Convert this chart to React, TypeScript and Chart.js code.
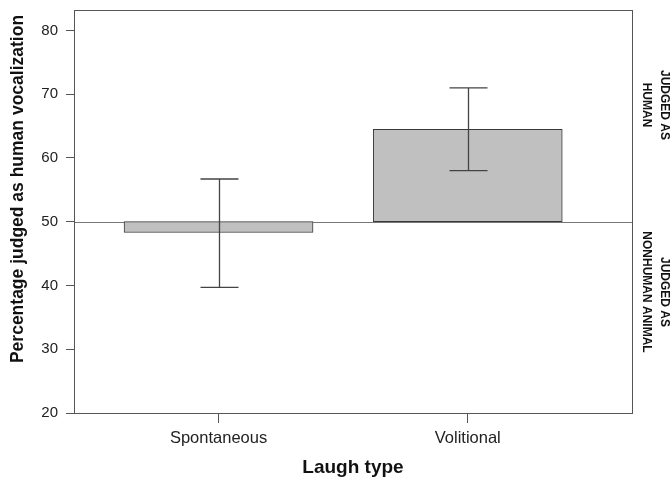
import React, { useEffect, useRef } from "react";
import { Chart, registerables } from "chart.js";

Chart.register(...registerables);

const categories = ["Spontaneous", "Volitional"];
const barBase = [50, 50];
const barMean = [48.3, 64.5];
const errLow = [39.7, 58.0];
const errHigh = [56.7, 71.0];
const yTicks = [20, 30, 40, 50, 60, 70, 80];
const sideLabelsTop = ["JUDGED AS", "HUMAN"];
const sideLabelsBottom = ["JUDGED AS", "NONHUMAN ANIMAL"];
const yTitle = "Percentage judged as human vocalization";
const xTitle = "Laugh type";

const FONT = "Arial, 'Liberation Sans', sans-serif";

const overlayPlugin = {
  id: "overlay",
  beforeDatasetsDraw(chart: any) {
    const { ctx, chartArea, scales } = chart;
    const y50 = scales.y.getPixelForValue(50);
    ctx.save();
    ctx.strokeStyle = "#777";
    ctx.lineWidth = 1;
    ctx.beginPath();
    ctx.moveTo(chartArea.left, Math.round(y50) + 0.5);
    ctx.lineTo(chartArea.right, Math.round(y50) + 0.5);
    ctx.stroke();
    ctx.restore();
  },
  afterDatasetsDraw(chart: any) {
    const { ctx, chartArea, scales } = chart;
    const xs = scales.x;
    const ys = scales.y;
    ctx.save();
    ctx.strokeStyle = "#444";
    ctx.lineWidth = 1.3;
    categories.forEach((_, i) => {
      const x = Math.round(xs.getPixelForValue(i + 1)) + 0.5;
      const yl = ys.getPixelForValue(errLow[i]);
      const yh = ys.getPixelForValue(errHigh[i]);
      const cap = 19;
      ctx.beginPath();
      ctx.moveTo(x, yl);
      ctx.lineTo(x, yh);
      ctx.moveTo(x - cap, yl);
      ctx.lineTo(x + cap, yl);
      ctx.moveTo(x - cap, yh);
      ctx.lineTo(x + cap, yh);
      ctx.stroke();
    });
    // frame
    ctx.strokeStyle = "#555";
    ctx.lineWidth = 1;
    ctx.strokeRect(
      Math.round(chartArea.left) + 0.5,
      Math.round(chartArea.top) + 0.5,
      Math.round(chartArea.right - chartArea.left),
      Math.round(chartArea.bottom - chartArea.top)
    );
    // y title
    ctx.fillStyle = "#111";
    ctx.font = `bold 17.5px ${FONT}`;
    ctx.textAlign = "center";
    ctx.textBaseline = "middle";
    ctx.save();
    ctx.translate(18, 189);
    ctx.rotate(-Math.PI / 2);
    ctx.fillText(yTitle, 0, 0);
    ctx.restore();
    // side labels
    ctx.font = `bold 12px ${FONT}`;
    const drawSide = (lines: string[], cx: number, cy: number) => {
      ctx.save();
      ctx.translate(cx, cy);
      ctx.rotate(Math.PI / 2);
      ctx.fillText(lines[0], 0, -9);
      ctx.fillText(lines[1], 0, 9);
      ctx.restore();
    };
    drawSide(sideLabelsTop, 655, 105);
    drawSide(sideLabelsBottom, 655, 292);
    ctx.restore();
  },
};

export default function App() {
  const ref = useRef<HTMLCanvasElement>(null);
  useEffect(() => {
    document.body.style.margin = "0";
    const canvas = ref.current!;
    const chart = new Chart(canvas, {
      type: "bar",
      data: {
        datasets: [
          {
            data: categories.map((_, i) => ({ x: i + 1, y: [barBase[i], barMean[i]] })) as any,
            backgroundColor: "#c0c0c0",
            borderColor: "#3a3a3a",
            borderWidth: 1,
            borderSkipped: false,
            barThickness: 189,
          },
        ],
      },
      options: {
        animation: false,
        responsive: false,
        maintainAspectRatio: false,
        layout: { padding: { left: 0, right: 38, top: 10, bottom: 0 } },
        plugins: { legend: { display: false }, tooltip: { enabled: false } },
        scales: {
          x: {
            type: "linear",
            min: 0.42,
            max: 2.659,
            offset: false,
            afterBuildTicks: (s: any) => {
              s.ticks = categories.map((_, i) => ({ value: i + 1 }));
            },
            afterFit: (s: any) => {
              s.height = 66;
              s.paddingLeft = 0;
              s.paddingRight = 0;
            },
            ticks: {
              callback: (v: any) => categories[Number(v) - 1] ?? "",
              font: { family: FONT, size: 16.5 },
              color: "#222",
              padding: 6,
              maxRotation: 0,
              autoSkip: false,
            },
            grid: { display: true, drawOnChartArea: false, offset: false, tickLength: 10, color: "#555" },
            border: { display: true, color: "#555" },
            title: {
              display: true,
              text: xTitle,
              font: { family: FONT, size: 19, weight: "bold" },
              color: "#111",
              padding: { top: 4, bottom: 0 },
            },
          },
          y: {
            min: 20,
            max: 83.2,
            afterBuildTicks: (s: any) => {
              s.ticks = yTicks.map((v) => ({ value: v }));
            },
            afterFit: (s: any) => {
              s.width = 74;
              s.paddingTop = 0;
              s.paddingBottom = 0;
            },
            ticks: {
              font: { family: FONT, size: 15 },
              color: "#222",
              padding: 8,
            },
            grid: { display: true, drawOnChartArea: false, tickLength: 8, color: "#555" },
            border: { display: true, color: "#555" },
          },
        },
      },
      plugins: [overlayPlugin],
    } as any);
    return () => chart.destroy();
  }, []);
  return (
    <div style={{ position: "fixed", left: 0, top: 0, width: 670, height: 479, background: "#fff" }}>
      <canvas ref={ref} width={670} height={479} style={{ width: 670, height: 479 }} />
    </div>
  );
}
